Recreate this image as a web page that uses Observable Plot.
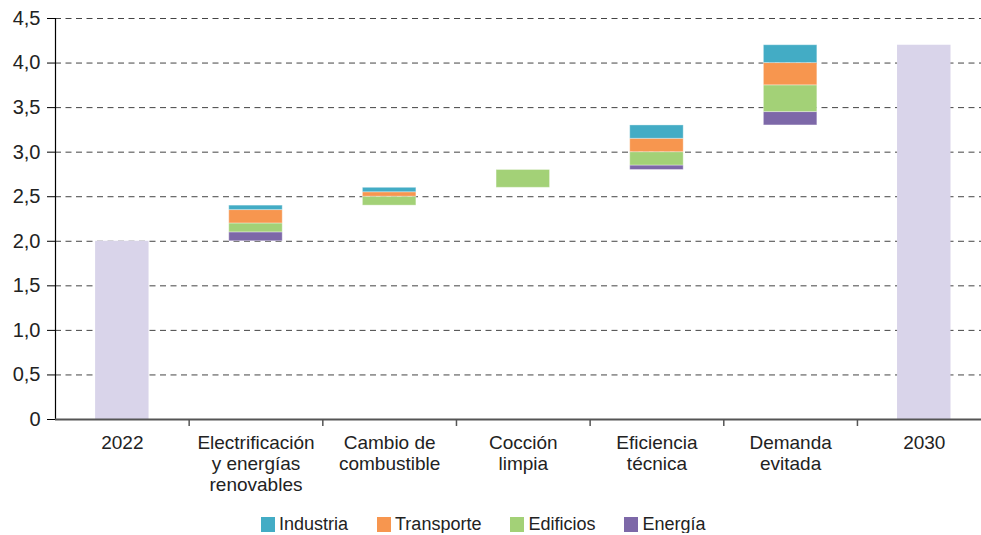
<!DOCTYPE html>
<html>
<head>
<meta charset="utf-8">
<script src="https://cdn.jsdelivr.net/npm/d3@7"></script>
<script src="https://cdn.jsdelivr.net/npm/@observablehq/plot@0.6"></script>
<style>
  body { margin: 0; background: #fff; font-family: "Liberation Sans", Arial, sans-serif; }
  #legend { display: flex; margin-left: 261px; margin-top: 7px; gap: 29px; font-size: 18px; color: #222; line-height: 18px; }
  #legend .item { display: flex; align-items: center; }
  #legend .sw { width: 14px; height: 15px; margin-right: 4px; }
</style>
</head>
<body>
<div id="chart"></div>
<div id="legend"></div>
<script>
// Categories (x axis)
const categories = ["2022", "Electrificación\ny energías\nrenovables", "Cambio de\ncombustible", "Cocción\nlimpia", "Eficiencia\ntécnica", "Demanda\nevitada", "2030"];
// Totals (first and last bars)
const total2022 = 2.0;
const total2030 = 4.2;
// Contributions of the middle categories (indices 1..5), stacked bottom to top
const sectors = ["Energía", "Edificios", "Transporte", "Industria"];
const energia    = [0.10, 0.00, 0.00, 0.05, 0.15];
const edificios  = [0.10, 0.10, 0.20, 0.15, 0.30];
const transporte = [0.15, 0.05, 0.00, 0.15, 0.25];
const industria  = [0.05, 0.05, 0.00, 0.15, 0.20];
// Y ticks
const yTicks = [0, 0.5, 1, 1.5, 2, 2.5, 3, 3.5, 4, 4.5];
// Legend order
const legendOrder = ["Industria", "Transporte", "Edificios", "Energía"];
const colors = {"Industria": "#43acc5", "Transporte": "#f7964f", "Edificios": "#a3d177", "Energía": "#7d68a8"};
const totalColor = "#d9d4ea";
const halfBar = 0.2;

const seriesValues = {"Energía": energia, "Edificios": edificios, "Transporte": transporte, "Industria": industria};
const segments = [];
let running = total2022;
for (let j = 0; j < energia.length; j++) {
  const idx = j + 1;
  for (const s of sectors) {
    const v = seriesValues[s][j];
    if (v > 0) segments.push({idx, sector: s, y1: running, y2: running + v});
    running += v;
  }
}
const totals = [{idx: 0, value: total2022}, {idx: categories.length - 1, value: total2030}];
const boundaries = d3.range(categories.length - 1).map(i => i + 0.5);

const fmt = d => d === 0 ? "0" : d.toFixed(1).replace(".", ",");

const plot = Plot.plot({
  width: 981,
  height: 508,
  marginTop: 18,
  marginBottom: 89,
  marginLeft: 55,
  marginRight: 0,
  style: {fontFamily: "'Liberation Sans', Arial, sans-serif", color: "#222", background: "#fff"},
  x: {type: "linear", domain: [-0.5, categories.length - 0.5], range: [55, 990.6]},
  y: {domain: [0, 4.5]},
  marks: [
    Plot.ruleY(yTicks.filter(d => d > 0), {stroke: "#444", strokeWidth: 1, strokeDasharray: "6,4.5"}),
    Plot.rectY(totals, {x1: d => d.idx - halfBar, x2: d => d.idx + halfBar, y1: 0, y2: "value", fill: totalColor}),
    Plot.rectY(segments, {x1: d => d.idx - halfBar, x2: d => d.idx + halfBar, y1: "y1", y2: "y2", fill: d => colors[d.sector], stroke: "#fff", strokeOpacity: 0.35, strokeWidth: 1}),
    Plot.frame({anchor: "left", stroke: "#000", strokeWidth: 1.2}),
    Plot.ruleY([0], {stroke: "#555", strokeWidth: 2}),
    Plot.axisY(yTicks, {tickSize: 8, tickPadding: 7, fontSize: 20, tickFormat: fmt, stroke: "#000", label: null}),
    Plot.axisX(boundaries, {tickSize: 7, tickFormat: () => "", stroke: "#555", strokeWidth: 1.5, label: null}),
    Plot.axisX(d3.range(categories.length), {tickSize: 0, tickPadding: 14, fontSize: 19, lineHeight: 1.12, tickFormat: i => categories[i], label: null})
  ]
});
document.getElementById("chart").appendChild(plot);

const legend = document.getElementById("legend");
for (const s of legendOrder) {
  const item = document.createElement("div");
  item.className = "item";
  const sw = document.createElement("span");
  sw.className = "sw";
  sw.style.background = colors[s];
  const t = document.createElement("span");
  t.textContent = s;
  item.appendChild(sw);
  item.appendChild(t);
  legend.appendChild(item);
}
</script>
</body>
</html>
